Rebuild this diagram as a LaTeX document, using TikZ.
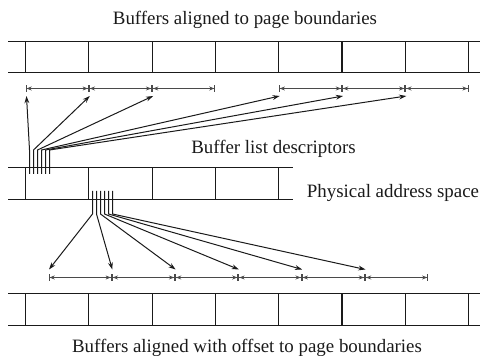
\documentclass[tikz,border=0pt]{standalone}
\usepackage{xcolor}
\usepackage{fontspec}
\setmainfont{Liberation Serif}
\usepackage{tikz}
\usetikzlibrary{arrows.meta,positioning}
\definecolor{ink}{HTML}{1A1A1A}
\definecolor{rule}{HTML}{4A4A4A}

\tikzset{
  caption/.style={font=\fontsize{9.45pt}{11pt}\selectfont,text=ink,inner sep=0pt},
  band/.style={draw=ink,line width=0.55pt},
  span/.style={draw=rule,line width=0.45pt,{Bar[width=3.4pt,line width=0.5pt]Stealth[length=2.6pt,width=2pt]}-{Stealth[length=2.6pt,width=2pt]Bar[width=3.4pt,line width=0.5pt]}},
  ptr/.style={draw=ink,line width=0.5pt,-{Stealth[length=3.6pt,width=2.4pt]}}
}

\begin{document}
\begin{tikzpicture}[x=0.5pt,y=-0.5pt]
\useasboundingbox (0,0) rectangle (481,356);
% captions
\node[caption,anchor=base] (ttop) at (245,25) {Buffers aligned to page boundaries};
\node[caption,anchor=base] (tdesc) at (273.5,154) {Buffer list descriptors};
\node[caption,anchor=base east] (tphys) at (479.5,198) {Physical address space};
\node[caption,anchor=base] (tbot) at (247,353) {Buffers aligned with offset to page boundaries};
% page bands
\draw[band] (8,41.5) -- (480,41.5) (8,72.5) -- (480,72.5);
\draw[band] (8,167.5) -- (293,167.5) (8,199.5) -- (293,199.5);
\draw[band] (8,293.5) -- (480,293.5) (8,325.5) -- (480,325.5);
\foreach \k in {0,...,7}{
  \draw[band] (25.5+63.3*\k,41.5) -- (25.5+63.3*\k,72.5);
  \draw[band] (25.5+63.3*\k,293.5) -- (25.5+63.3*\k,325.5);
}
\foreach \k in {0,...,4}
  \draw[band] (25.5+63.3*\k,167.5) -- (25.5+63.3*\k,199.5);
% buffer extents
\foreach \k in {0,...,7}{
  \coordinate (a\k) at (25.5+63.3*\k,88.5);
  \coordinate (b\k) at (48.5+63.3*\k,277.5);
}
\foreach \i/\j in {0/1,1/2,2/3,4/5,5/6,6/7}
  \draw[span] (a\i) -- (a\j);
\foreach \i/\j in {0/1,1/2,2/3,3/4,4/5,5/6}
  \draw[span] (b\i) -- (b\j);
% descriptors
\foreach \k/\t in {0/0,1/1,2/2,3/4,4/5,5/6}{
  \coordinate (u\k) at (29.5+4*\k,174);
  \coordinate (v\k) at (29.5+4*\k,150);
  \draw[ptr] (u\k) -- (v\k) -- ([shift={(1,7.5)}]a\t);
}
\foreach \k in {0,...,5}{
  \coordinate (p\k) at (92.5+4*\k,191);
  \coordinate (q\k) at (92.5+4*\k,214);
  \draw[ptr] (p\k) -- (q\k) -- ([shift={(0.5,-8)}]b\k);
}
\end{tikzpicture}
\end{document}
